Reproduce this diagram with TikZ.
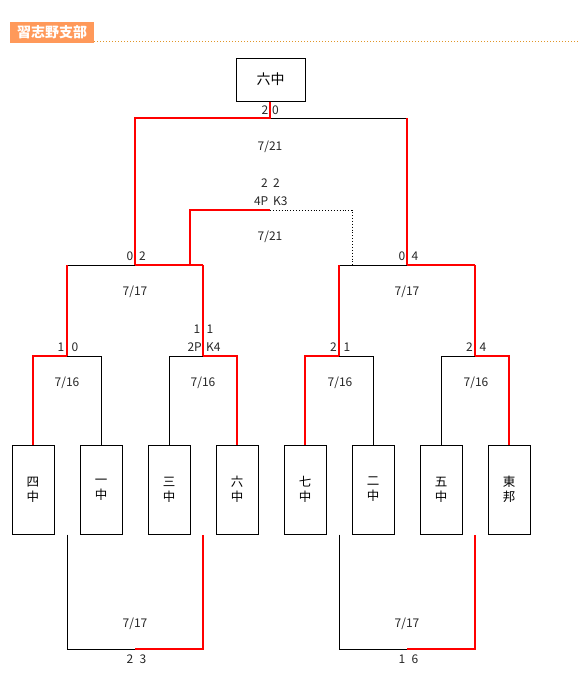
\documentclass[tikz,border=0pt]{standalone}
\usepackage{fontspec}
\setmainfont{Noto Sans CJK JP}
\begin{document}
\begin{tikzpicture}[x=1pt,y=-1pt,
  win/.style={draw=red,line width=2pt},
  lose/.style={draw=black,line width=0.9pt},
  dots/.style={draw=black,line width=0.9pt,dotted},
  team/.style={draw=black,line width=1pt,minimum width=42pt,minimum height=89pt,inner sep=0pt,align=center,font=\fontsize{12.5}{15}\selectfont},
  lbl/.style={font=\fontsize{12}{13}\selectfont,inner sep=0pt,text=black!85}]
\useasboundingbox (0,0) rectangle (580,686);
% header
\node[fill={rgb,255:red,255;green,153;blue,90},minimum width=84pt,minimum height=21pt,inner sep=0pt,text=white,font=\fontsize{14}{14}\selectfont\bfseries] (hdr) at (52,32.5) {習志野支部};
\coordinate (hdrend) at (580,41);
\draw[draw={rgb,255:red,225;green,150;blue,40},line width=1pt,dotted] (hdr.east |- hdrend) -- (hdrend);
% champion
\node[draw=black,line width=1pt,minimum width=69pt,minimum height=43pt,inner sep=0pt,font=\fontsize{14}{14}\selectfont] (champ) at (270.5,79.5) {六中};
% teams
\foreach \n/\x/\t in {t1/33/四\\中,t2/101/一\\中,t3/169/三\\中,t4/237/六\\中,t5/305/七\\中,t6/373/二\\中,t7/441/五\\中,t8/509/東\\邦}{
  \node[team] (\n) at (\x,489.5) {\t};
}
% junction coordinates
\coordinate (f) at (270,118);
\coordinate (fl) at (135,118);
\coordinate (fr) at (407,118);
\coordinate (sl) at (135,265);
\coordinate (sla) at (67,265);
\coordinate (slb) at (203,265);
\coordinate (sr) at (407,265);
\coordinate (sra) at (339,265);
\coordinate (srb) at (475,265);
\coordinate (pl) at (190,210);
\coordinate (pm) at (270,210);
\coordinate (pr) at (352,210);
\coordinate (pd) at (352,265);
\coordinate (pb) at (190,265);
\coordinate (q1) at (67,356);
\coordinate (q2) at (203,356);
\coordinate (q3) at (339,356);
\coordinate (q4) at (475,356);
% final
\draw[lose] (f) -- (fr);
\draw[win] (champ.south -| f) -- (f) -- (fl) -- (sl);
\draw[win] (fr) -- (sr);
% extra game
\draw[win] (pb) -- (pl) -- (pm);
\draw[dots] (pm) -- (pr) -- (pd);
% semifinals
\draw[lose] (sla) -- (sl);
\draw[win] (sl) -- (slb);
\draw[lose] (sra) -- (sr);
\draw[win] (sr) -- (srb);
\draw[win] (sla) -- (q1);
\draw[win] (slb) -- (q2);
\draw[win] (sra) -- (q3);
\draw[win] (srb) -- (q4);
% quarterfinals
\draw[win] (t1.north) -- (t1.north |- q1) -- (q1);
\draw[lose] (q1) -- (t2.north |- q1) -- (t2.north);
\draw[lose] (t3.north) -- (t3.north |- q2) -- (q2);
\draw[win] (q2) -- (t4.north |- q2) -- (t4.north);
\draw[win] (t5.north) -- (t5.north |- q3) -- (q3);
\draw[lose] (q3) -- (t6.north |- q3) -- (t6.north);
\draw[lose] (t7.north) -- (t7.north |- q4) -- (q4);
\draw[win] (q4) -- (t8.north |- q4) -- (t8.north);
% bottom games
\coordinate (b1) at (135,649);
\coordinate (b2) at (407,649);
\draw[lose] (t1.south -| sla) -- (sla |- b1) -- (b1);
\draw[win] (b1) -- (slb |- b1) -- (t1.south -| slb);
\draw[lose] (t1.south -| sra) -- (sra |- b2) -- (b2);
\draw[win] (b2) -- (srb |- b2) -- (t1.south -| srb);
% labels
\node[lbl] (s1a) at (265,110) {2};
\node[lbl] (s1b) at (275.5,110) {0};
\node[lbl] (d1) at (270,147) {7/21};
\node[lbl] (s2a) at (264.5,183) {2};
\node[lbl] (s2b) at (276.5,183) {2};
\node[lbl,anchor=east] (s2c) at (268.5,201) {4P};
\node[lbl,anchor=west] (s2d) at (273,201) {K3};
\node[lbl] (d2) at (270,237) {7/21};
\node[lbl] (s3a) at (130,256) {0};
\node[lbl] (s3b) at (142.5,256) {2};
\node[lbl] (d3) at (135,292) {7/17};
\node[lbl] (s4a) at (402,256) {0};
\node[lbl] (s4b) at (415,256) {4};
\node[lbl] (d4) at (407,292) {7/17};
\node[lbl] (s5a) at (61,347) {1};
\node[lbl] (s5b) at (75,347) {0};
\node[lbl] (s6a) at (197,329) {1};
\node[lbl] (s6b) at (210,329) {1};
\node[lbl,anchor=east] (s6c) at (202,347) {2P};
\node[lbl,anchor=west] (s6d) at (206,347) {K4};
\node[lbl] (s7a) at (333.5,347) {2};
\node[lbl] (s7b) at (347,347) {1};
\node[lbl] (s8a) at (469.5,347) {2};
\node[lbl] (s8b) at (483,347) {4};
\node[lbl] (d5) at (67,383) {7/16};
\node[lbl] (d6) at (203,383) {7/16};
\node[lbl] (d7) at (340,383) {7/16};
\node[lbl] (d8) at (476,383) {7/16};
\node[lbl] (d9) at (135,624) {7/17};
\node[lbl] (s9a) at (130,659) {2};
\node[lbl] (s9b) at (143,659) {3};
\node[lbl] (d10) at (407,624) {7/17};
\node[lbl] (s10a) at (402,659) {1};
\node[lbl] (s10b) at (415,659) {6};
\end{tikzpicture}
\end{document}
